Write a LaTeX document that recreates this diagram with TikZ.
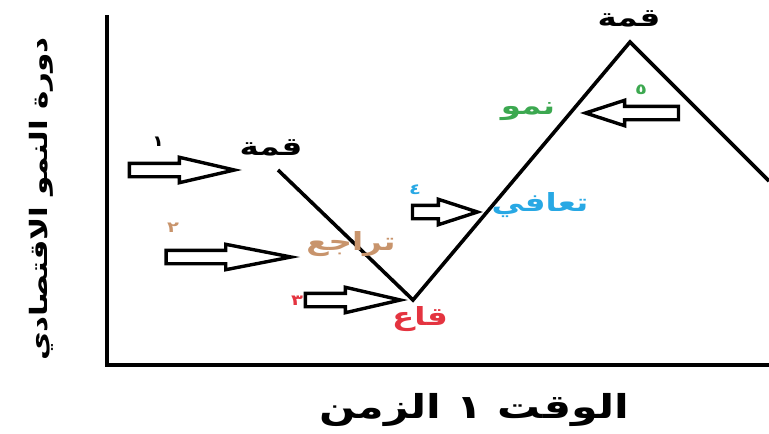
\documentclass[tikz,border=0pt]{standalone}
\usepackage{fontspec}
\newfontfamily\arabicfont[Script=Arabic,FakeStretch=1.3]{DejaVu Sans}
\TeXXeTstate=1
\usetikzlibrary{shapes.arrows,positioning}
\definecolor{recess}{RGB}{200,148,108}
\definecolor{trough}{RGB}{228,52,64}
\definecolor{recover}{RGB}{40,168,228}
\definecolor{growth}{RGB}{60,168,80}
\newcommand{\ar}[1]{\beginR #1\endR}

\begin{document}
\begin{tikzpicture}[x=1pt, y=-1pt,
  phase/.style={font=\arabicfont\bfseries\fontsize{25}{25}\selectfont, inner sep=1pt},
  num/.style={font=\arabicfont\bfseries\fontsize{15}{15}\selectfont, inner sep=0pt},
  axislabel/.style={font=\arabicfont\bfseries\fontsize{24}{24}\selectfont},
  pointer/.style={single arrow, draw, fill=white, line width=3.4pt, inner xsep=0pt, inner ysep=5pt,
    minimum width=0pt, single arrow head extend=6pt, single arrow tip angle=30, anchor=tip}]
  \useasboundingbox (0,0) rectangle (769,434);

  % axes
  \coordinate (ytop) at (107,15);
  \coordinate (origin) at (107,365);
  \coordinate (xend) at (769,365);
  \draw[line width=4.2pt] (ytop) -- (origin) -- (xend);
  \node[axislabel, rotate=90] (ylab) at (41,199) {\ar{دورة النمو الاقتصادي}};
  \node[axislabel, font=\arabicfont\bfseries\fontsize{33}{33}\selectfont] (xlab) at (474,410) {\ar{الوقت ١ الزمن}};

  % cycle
  \coordinate (peak1) at (278,170);
  \coordinate (low) at (413,300);
  \coordinate (peak2) at (630,42);
  \coordinate (out) at (769,181);
  \draw[line width=3.6pt, line join=miter] (peak1) -- (low) -- (peak2) -- (out);

  % phases
  \node[phase] (qimma1) at (271,148) {\ar{قمة}};
  \node[phase] (qimma2) at (629,19) {\ar{قمة}};
  \node[phase, text=recess] (taraju) at (351,244) {\ar{تراجع}};
  \node[phase, text=trough] (qaa) at (420,319) {\ar{قاع}};
  \node[phase, text=recover] (taafi) at (540,205) {\ar{تعافي}};
  \node[phase, text=growth] (numu) at (528,112) {\ar{نمو}};

  % pointers
  \node[pointer, minimum height=105pt, single arrow tip angle=26] (p1) at (242,170) {};
  \node[pointer, minimum height=125pt, single arrow tip angle=22] (p2) at (300,257) {};
  \node[pointer, minimum height=95pt, single arrow tip angle=26] (p3) at (408,300) {};
  \node[pointer, minimum height=65pt, single arrow tip angle=36] (p4) at (483,212) {};
  \node[pointer, minimum height=93pt, single arrow tip angle=36, rotate=180] (p5) at (580,113) {};

  \node[num] (n1) at (158,142) {١};
  \node[num, text=recess] (n2) at (173,228) {٢};
  \node[num, text=trough] (n3) at (297,301) {٣};
  \node[num, text=recover] (n4) at (415,190) {٤};
  \node[num, text=growth] (n5) at (641,90) {٥};
\end{tikzpicture}
\end{document}
